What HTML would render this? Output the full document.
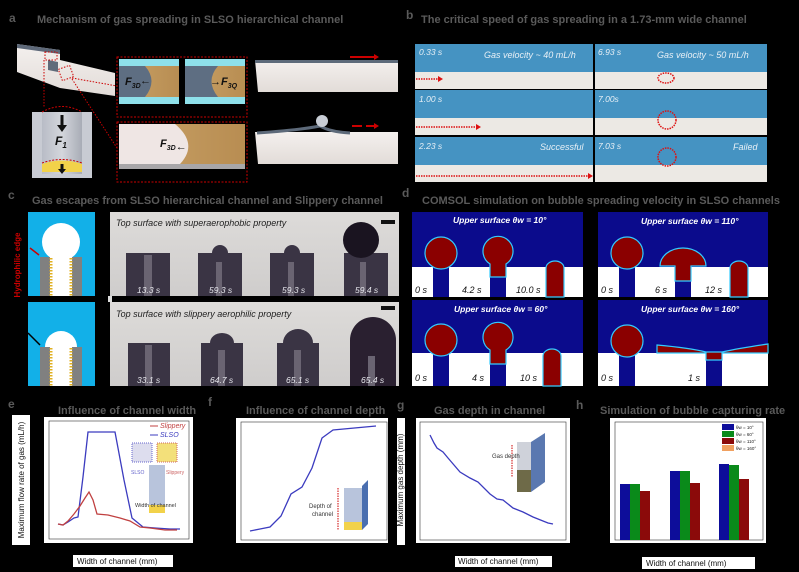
<!DOCTYPE html>
<html><head><meta charset="utf-8"><style>
html,body{margin:0;padding:0;background:#000;}
svg{display:block;font-family:"Liberation Sans",Arial,sans-serif;}
</style></head><body>
<svg width="799" height="572" viewBox="0 0 799 572" xmlns="http://www.w3.org/2000/svg">
<rect width="799" height="572" fill="#000"/>
<defs>
<linearGradient id="cyl" x1="0" x2="1"><stop offset="0" stop-color="#b8bcc6"/><stop offset="0.5" stop-color="#d4d6dc"/><stop offset="1" stop-color="#a8acb6"/></linearGradient>
<linearGradient id="gold" x1="0" x2="1"><stop offset="0" stop-color="#c9a267"/><stop offset="1" stop-color="#b88d52"/></linearGradient>
<linearGradient id="slab" x1="0" y1="0" x2="0" y2="1"><stop offset="0" stop-color="#f4f0ee"/><stop offset="1" stop-color="#e2dcd8"/></linearGradient>
<linearGradient id="photo" x1="0" y1="0" x2="0" y2="1"><stop offset="0" stop-color="#dddbd9"/><stop offset="1" stop-color="#cfcdcc"/></linearGradient>
</defs>
<g font-weight="bold" fill="#5a5a5a" font-size="11">
<text x="9" y="22" font-size="12">a</text>
<text x="37" y="23">Mechanism of gas spreading in SLSO hierarchical channel</text>
<text x="406" y="19" font-size="12">b</text>
<text x="421" y="23">The critical speed of gas spreading in a 1.73-mm wide channel</text>
<text x="8" y="199" font-size="12">c</text>
<text x="32" y="204">Gas escapes from SLSO hierarchical channel and Slippery channel</text>
<text x="402" y="197" font-size="12">d</text>
<text x="422" y="204">COMSOL simulation on bubble spreading velocity in SLSO channels</text>
<text x="8" y="408" font-size="12">e</text>
<text x="58" y="414">Influence of channel width</text>
<text x="208" y="406" font-size="12">f</text>
<text x="246" y="414">Influence of channel depth</text>
<text x="397" y="409" font-size="12">g</text>
<text x="434" y="414">Gas depth in channel</text>
<text x="576" y="409" font-size="12">h</text>
<text x="600" y="414">Simulation of bubble capturing rate</text>
</g>

<!-- Panel a -->
<polygon points="17,44 60,50 60,60 115,73 115,96 60,88 17,72" fill="url(#slab)"/>
<polygon points="17,44 60,50 60,54 17,48" fill="#5d6878"/>
<polygon points="48,60 58,62 58,72 48,70" fill="#606b7a"/>
<rect x="45" y="52" width="12" height="8" fill="none" stroke="#c00" stroke-dasharray="1.5,1.5"/>
<rect x="60" y="67" width="12" height="12" fill="none" stroke="#c00" stroke-dasharray="1.5,1.5" transform="rotate(-20 66 73)"/>
<polyline points="44,60 44,108" stroke="#c00" stroke-dasharray="1.5,1.5" fill="none"/>
<polyline points="72,79 117,148" stroke="#c00" stroke-dasharray="1.5,1.5" fill="none"/>
<polyline points="72,78 117,86" stroke="#c00" stroke-dasharray="1.5,1.5" fill="none"/>
<rect x="32" y="112" width="60" height="66" fill="#c8cbd3"/>
<rect x="42" y="112" width="40" height="62" fill="url(#cyl)"/>
<path d="M42,164 Q62,157 82,164 L82,172 L42,172Z" fill="#f2d24a"/>
<path d="M42,112 Q62,101 82,112" fill="none" stroke="#c00" stroke-dasharray="2,1.5"/>
<path d="M42,163 Q62,156 82,163" fill="none" stroke="#c00" stroke-dasharray="2,1.5"/>
<path d="M62,115 v12" stroke="#111" stroke-width="3"/><polygon points="57,125 67,125 62,132" fill="#111"/>
<text x="55" y="145" font-size="12" font-weight="bold" font-style="italic" fill="#111">F<tspan font-size="8" dy="3">1</tspan></text>
<path d="M62,164 v6" stroke="#111" stroke-width="3"/><polygon points="58,169 66,169 62,174" fill="#111"/>
<rect x="117" y="57" width="130" height="60" fill="#000" stroke="#c00" stroke-dasharray="2,1.5"/>
<rect x="119" y="59" width="60" height="45" fill="#8ee0ea"/>
<rect x="119" y="66" width="60" height="31" fill="url(#gold)"/>
<path d="M119,66 H145 Q158,81 145,97 H119Z" fill="#5e6e82"/>
<rect x="185" y="59" width="60" height="45" fill="#8ee0ea"/>
<rect x="185" y="66" width="60" height="31" fill="url(#gold)"/>
<path d="M185,66 H218 Q205,81 218,97 H185Z" fill="#5e6e82"/>
<text x="125" y="85" font-size="11" font-weight="bold" font-style="italic" fill="#111">F<tspan font-size="7" dy="3">3D</tspan></text>
<text x="210" y="85" font-size="11" font-weight="bold" font-style="italic" fill="#111">→F<tspan font-size="7" dy="3">3Q</tspan></text>
<text x="140" y="84" font-size="11" font-weight="bold" fill="#111">←</text>
<rect x="117" y="122" width="130" height="60" fill="#000" stroke="#c00" stroke-dasharray="2,1.5"/>
<rect x="119" y="124" width="126" height="45" fill="url(#gold)"/>
<path d="M119,124 H175 Q200,145 178,166 H119Z" fill="#efe6e4"/>
<rect x="119" y="164" width="126" height="5" fill="#a8a6a8"/>
<text x="160" y="147" font-size="11" font-weight="bold" font-style="italic" fill="#111">F<tspan font-size="7" dy="3">3D</tspan>←</text>
<polygon points="255,60 398,60 398,92 258,92" fill="url(#slab)"/>
<rect x="255" y="60" width="143" height="3" fill="#5d6a7a"/>
<path d="M350,57 h24" stroke="#c00" stroke-width="2"/><polygon points="374,54 379,57 374,60" fill="#c00"/>
<polygon points="255,132 398,132 398,164 258,164" fill="url(#slab)"/>
<path d="M257,133 Q300,130 320,126 Q330,132 350,133" stroke="#5d6a7a" stroke-width="3" fill="none"/>
<circle cx="322" cy="121" r="6" fill="#c9ced6"/>
<path d="M352,126 h10 M366,126 h8" stroke="#c00" stroke-width="2"/><polygon points="374,123 379,126 374,129" fill="#c00"/>

<!-- Panel b -->
<g>
<rect x="415" y="44" width="178" height="45" fill="#4593c2"/><rect x="415" y="72" width="178" height="17" fill="#ece9e4"/>
<rect x="415" y="90" width="178" height="45" fill="#4593c2"/><rect x="415" y="118" width="178" height="17" fill="#ece9e4"/>
<rect x="415" y="137" width="178" height="45" fill="#4593c2"/><rect x="415" y="165" width="178" height="17" fill="#ece9e4"/>
<rect x="595" y="44" width="172" height="45" fill="#4593c2"/><rect x="595" y="72" width="172" height="17" fill="#ece9e4"/>
<rect x="595" y="90" width="172" height="45" fill="#4593c2"/><rect x="595" y="118" width="172" height="17" fill="#ece9e4"/>
<rect x="595" y="137" width="172" height="45" fill="#4593c2"/><rect x="595" y="165" width="172" height="17" fill="#ece9e4"/>
<g fill="#e8f0f6" font-size="8.5" font-style="italic">
<text x="419" y="55">0.33 s</text><text x="484" y="58" font-size="9">Gas velocity ~ 40 mL/h</text>
<text x="419" y="102">1.00 s</text>
<text x="419" y="149">2.23 s</text><text x="540" y="150" font-size="9">Successful</text>
<text x="598" y="55">6.93 s</text><text x="657" y="58" font-size="9">Gas velocity ~ 50 mL/h</text>
<text x="598" y="102">7.00s</text>
<text x="598" y="149">7.03 s</text><text x="733" y="150" font-size="9">Failed</text>
</g>
<g stroke="#d11" stroke-width="1.5" stroke-dasharray="1.5,1" fill="none">
<path d="M416,79 h22"/><path d="M416,127 h60"/><path d="M416,176 h172"/>
<ellipse cx="666" cy="78" rx="8" ry="5"/><circle cx="667" cy="120" r="9"/><circle cx="667" cy="157" r="9"/>
</g>
<g fill="#d11"><polygon points="438,76 443,79 438,82"/><polygon points="476,124 481,127 476,130"/><polygon points="588,173 593,176 588,179"/></g>
</g>

<!-- Panel c -->
<text transform="translate(20,265) rotate(-90)" font-size="8" font-weight="bold" fill="#c00" text-anchor="middle">Hydrophilic edge</text>
<rect x="28" y="212" width="67" height="84" fill="#12b0e8"/>
<circle cx="61" cy="242" r="19" fill="#fff"/>
<rect x="40" y="257" width="42" height="39" fill="#808080"/>
<rect x="50" y="257" width="22" height="39" fill="#fff"/>
<path d="M51,258 v38 M71,258 v38" stroke="#e0b020" stroke-width="3" stroke-dasharray="1.5,1.5"/>
<path d="M30,248 l9,7" stroke="#c00" stroke-width="1.5"/>
<rect x="28" y="302" width="67" height="84" fill="#12b0e8"/>
<path d="M45,347 a16,16 0 1 1 32,0Z" fill="#fff"/>
<rect x="40" y="347" width="42" height="39" fill="#808080"/>
<rect x="50" y="347" width="22" height="39" fill="#fff"/>
<path d="M51,348 v38 M71,348 v38" stroke="#e0b020" stroke-width="3" stroke-dasharray="1.5,1.5"/>
<path d="M28,333 l12,12" stroke="#000" stroke-width="1.5"/>
<rect x="110" y="212" width="289" height="84" fill="url(#photo)"/>
<rect x="110" y="302" width="289" height="84" fill="url(#photo)"/>
<rect x="108" y="296" width="4" height="6" fill="#ddd"/>
<text x="116" y="226" font-size="9" font-style="italic" fill="#222">Top surface with superaerophobic property</text>
<text x="116" y="317" font-size="9" font-style="italic" fill="#222">Top surface with slippery aerophilic property</text>
<rect x="381" y="220" width="14" height="4" fill="#111"/><rect x="381" y="306" width="14" height="4" fill="#111"/>
<g fill="#3a3444">
<rect x="126" y="253" width="44" height="43"/>
<rect x="198" y="253" width="44" height="43"/><circle cx="220" cy="253" r="8"/>
<rect x="270" y="253" width="44" height="43"/><circle cx="292" cy="253" r="8"/>
<rect x="344" y="253" width="44" height="43"/><circle cx="361" cy="240" r="18" fill="#1a1420"/>
<rect x="128" y="343" width="42" height="43"/>
<path d="M201,343 h42 v43 h-42Z M210,343 a12,10 0 0 1 24,0Z"/>
<path d="M277,343 h42 v43 h-42Z M283,343 a15,14 0 0 1 30,0Z"/>
<path d="M350,386 V340 a23,23 0 0 1 46,0 V386Z" fill="#2a2030"/>
</g>
<g fill="#6a6472"><rect x="144" y="255" width="8" height="41"/><rect x="216" y="262" width="6" height="34"/><rect x="288" y="262" width="6" height="34"/><rect x="360" y="262" width="6" height="34"/>
<rect x="145" y="345" width="7" height="41"/><rect x="218" y="350" width="7" height="36"/><rect x="294" y="350" width="7" height="36"/><rect x="368" y="356" width="7" height="30"/></g>
<g fill="#e8e8ee" font-size="8.5" font-style="italic">
<text x="137" y="293">13.3 s</text><text x="209" y="293">59.3 s</text><text x="282" y="293">59.3 s</text><text x="355" y="293">59.4 s</text>
<text x="137" y="383">33.1 s</text><text x="210" y="383">64.7 s</text><text x="286" y="383">65.1 s</text><text x="361" y="383">65.4 s</text>
</g>

<!-- Panel d -->
<g>
<rect x="412" y="212" width="171" height="85" fill="#0b0b8c"/><rect x="412" y="267" width="171" height="30" fill="#fff"/>
<rect x="598" y="212" width="170" height="85" fill="#0b0b8c"/><rect x="598" y="267" width="170" height="30" fill="#fff"/>
<rect x="412" y="300" width="171" height="86" fill="#0b0b8c"/><rect x="412" y="353" width="171" height="33" fill="#fff"/>
<rect x="598" y="300" width="170" height="86" fill="#0b0b8c"/><rect x="598" y="353" width="170" height="33" fill="#fff"/>
<g fill="#0b0b8c">
<rect x="433" y="267" width="16" height="30"/><rect x="490" y="267" width="16" height="30"/>
<rect x="619" y="267" width="16" height="30"/><rect x="675" y="267" width="16" height="30"/>
<rect x="433" y="353" width="16" height="33"/><rect x="490" y="353" width="16" height="33"/>
<rect x="619" y="353" width="16" height="33"/><rect x="706" y="353" width="16" height="33"/>
</g>
<g fill="#8b0000" stroke="#3cf" stroke-width="1.2">
<circle cx="441" cy="253" r="16"/>
<path d="M490,277 V264 a15,15 0 1 1 16,0 V277Z"/>
<path d="M546,297 V268 a9,7 0 0 1 18,0 V297Z"/>
<circle cx="627" cy="253" r="16"/>
<path d="M675,281 V266 H660 a23,18 0 0 1 46,0 H691 V281Z"/>
<path d="M730,297 V268 a9,7 0 0 1 18,0 V297Z"/>
<circle cx="441" cy="340" r="16"/>
<path d="M490,364 V350 a15,15 0 1 1 16,0 V364Z"/>
<path d="M543,386 V356 a9,7 0 0 1 18,0 V386Z"/>
<circle cx="627" cy="341" r="16"/>
<path d="M657,345 Q690,348 706,352 H722 Q740,348 768,344 V353 H722 V360 H706 V353 H657Z"/>
</g>
<g fill="#fff" font-size="8.5" font-weight="bold" font-style="italic">
<text x="453" y="223">Upper surface θw = 10°</text><text x="641" y="224">Upper surface θw = 110°</text>
<text x="454" y="312">Upper surface θw = 60°</text><text x="641" y="312">Upper surface θw = 160°</text>
</g>
<g fill="#111" font-size="9" font-style="italic">
<text x="415" y="293">0 s</text><text x="462" y="293">4.2 s</text><text x="516" y="293">10.0 s</text>
<text x="601" y="293">0 s</text><text x="655" y="293">6 s</text><text x="705" y="293">12 s</text>
<text x="415" y="381">0 s</text><text x="472" y="381">4 s</text><text x="520" y="381">10 s</text>
<text x="601" y="381">0 s</text><text x="688" y="381">1 s</text>
</g>
</g>

<!-- Panel e -->
<rect x="12" y="415" width="18" height="130" fill="#fff"/>
<text transform="translate(24,480) rotate(-90)" font-size="8" fill="#111" text-anchor="middle">Maximum flow rate of gas (mL/h)</text>
<rect x="73" y="555" width="100" height="12" fill="#fff"/>
<text x="77" y="564" font-size="8" fill="#111">Width of channel (mm)</text>
<rect x="44" y="417" width="149" height="126" fill="#fff"/>
<rect x="49" y="421" width="140" height="118" fill="none" stroke="#333" stroke-width="0.6"/>
<polyline points="58,524 63,525 68,522 74,518 78,517 83,477 88,432 101,432 115,432 124,480 132,518 143,527 155,528 170,529 180,529" fill="none" stroke="#3b3bbf" stroke-width="1.3"/>
<polyline points="58,524 63,525 68,521 74,514 80,506 85,498 89,492 93,500 97,514 108,515 120,518 130,521 140,527 150,528 165,530 177,530" fill="none" stroke="#c04040" stroke-width="1.3"/>
<text x="160" y="428" font-size="7" font-style="italic" fill="#c04040">Slippery</text>
<text x="160" y="437" font-size="7" font-style="italic" fill="#3b3bbf">SLSO</text>
<path d="M150,426 h8" stroke="#c04040"/><path d="M150,435 h8" stroke="#3b3bbf"/>
<rect x="132" y="443" width="20" height="19" fill="#dde" stroke="#66c" stroke-dasharray="1,1"/>
<rect x="157" y="443" width="20" height="19" fill="#f3e07a" stroke="#c66" stroke-dasharray="1,1"/>
<rect x="149" y="465" width="16" height="48" fill="#b8c4dc"/>
<rect x="149" y="505" width="16" height="8" fill="#f2d24a"/>
<text x="135" y="507" font-size="5.5" fill="#333">Width of channel</text>
<text x="131" y="474" font-size="5" fill="#66c">SLSO</text><text x="166" y="474" font-size="5" fill="#c66">Slippery</text>

<!-- Panel f -->
<rect x="236" y="418" width="152" height="125" fill="#fff"/>
<rect x="241" y="422" width="146" height="118" fill="none" stroke="#333" stroke-width="0.6"/>
<polyline points="250,531 260,529 270,527 281,516 291,494 302,487 312,468 322,438 333,430 376,426" fill="none" stroke="#3b3bbf" stroke-width="1.3"/>
<rect x="344" y="488" width="18" height="42" fill="#b8c4dc"/>
<polygon points="362,486 368,480 368,524 362,530" fill="#4a6fb0"/>
<rect x="344" y="522" width="18" height="8" fill="#f2d24a"/>
<path d="M338,488 v42" stroke="#c00" stroke-dasharray="1.5,1"/>
<text x="309" y="508" font-size="6" fill="#333">Depth of</text><text x="312" y="516" font-size="6" fill="#333">channel</text>

<!-- Panel g -->
<rect x="397" y="418" width="8" height="127" fill="#fff"/>
<text transform="translate(403,480) rotate(-90)" font-size="8" fill="#111" text-anchor="middle">Maximum gas depth (mm)</text>
<rect x="455" y="556" width="97" height="11" fill="#fff"/>
<text x="458" y="564" font-size="8" fill="#111">Width of channel (mm)</text>
<rect x="416" y="418" width="154" height="125" fill="#fff"/>
<rect x="420" y="422" width="146" height="118" fill="none" stroke="#333" stroke-width="0.6"/>
<polyline points="430,435 434,443 437,448 443,452 448,458 460,472 470,478 478,482 490,494 497,499 503,500 513,508 523,512 533,517 548,523 553,524" fill="none" stroke="#3b3bbf" stroke-width="1.3"/>
<rect x="517" y="442" width="14" height="50" fill="#cfd2da"/>
<rect x="517" y="470" width="14" height="22" fill="#6e6a48"/>
<polygon points="531,442 545,433 545,482 531,492" fill="#5a78b0"/>
<path d="M512,445 v32" stroke="#c00" stroke-dasharray="1.5,1"/>
<text x="492" y="458" font-size="6" fill="#333">Gas depth</text>

<!-- Panel h -->
<rect x="642" y="557" width="113" height="12" fill="#fff"/>
<text x="646" y="566" font-size="8" fill="#111">Width of channel (mm)</text>
<rect x="610" y="418" width="156" height="125" fill="#fff"/>
<rect x="615" y="422" width="148" height="118" fill="none" stroke="#333" stroke-width="0.6"/>
<g>
<rect x="620" y="484" width="10" height="56" fill="#0d0d9a"/><rect x="630" y="484" width="10" height="56" fill="#0a8a1a"/><rect x="640" y="491" width="10" height="49" fill="#8b0a0a"/>
<rect x="670" y="471" width="10" height="69" fill="#0d0d9a"/><rect x="680" y="471" width="10" height="69" fill="#0a8a1a"/><rect x="690" y="483" width="10" height="57" fill="#8b0a0a"/>
<rect x="719" y="464" width="10" height="76" fill="#0d0d9a"/><rect x="729" y="465" width="10" height="75" fill="#0a8a1a"/><rect x="739" y="479" width="10" height="61" fill="#8b0a0a"/>
<rect x="722" y="424" width="12" height="6" fill="#0d0d9a"/><rect x="722" y="431" width="12" height="6" fill="#0a8a1a"/>
<rect x="722" y="438" width="12" height="6" fill="#8b0a0a"/><rect x="722" y="445" width="12" height="6" fill="#f0a060"/>
<g font-size="4.5" fill="#222"><text x="736" y="429">θw = 10°</text><text x="736" y="436">θw = 60°</text><text x="736" y="443">θw = 110°</text><text x="736" y="450">θw = 160°</text></g>
</g>
</svg>
</body></html>
